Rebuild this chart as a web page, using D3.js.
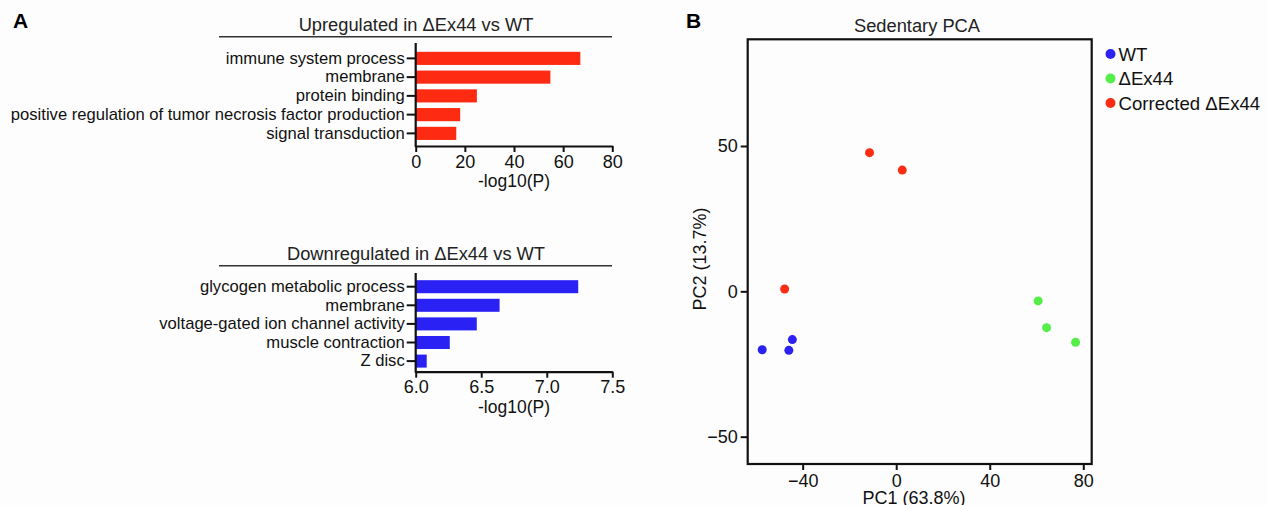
<!DOCTYPE html>
<html>
<head>
<meta charset="utf-8">
<script src="https://cdn.jsdelivr.net/npm/d3@7"></script>
<style>
  html, body { margin: 0; padding: 0; background: #fdfdfd; }
  svg { display: block; font-family: "Liberation Sans", Arial, Helvetica, sans-serif; }
</style>
</head>
<body>
<svg id="chart" width="1267" height="505"></svg>
<script>
// ---- Data ----
const upCategories = ["immune system process", "membrane", "protein binding",
  "positive regulation of tumor necrosis factor production", "signal transduction"];
const upValues = [67, 54.8, 24.9, 18.1, 16.5];
const upTicks = [0, 20, 40, 60, 80];

const downCategories = ["glycogen metabolic process", "membrane", "voltage-gated ion channel activity",
  "muscle contraction", "Z disc"];
const downValues = [7.24, 6.64, 6.466, 6.26, 6.084];
const downTicks = [6.0, 6.5, 7.0, 7.5];

const pcaGroups = ["WT", "ΔEx44", "Corrected ΔEx44"];
const pcaColors = ["#2b22f2", "#55ee48", "#fb2c14"];
const wtPC1 = [-57.3, -45.9, -44.4];
const wtPC2 = [-20.1, -20.3, -16.6];
const exPC1 = [60.7, 64.3, 76.7];
const exPC2 = [-3.3, -12.5, -17.5];
const corrPC1 = [-11.4, 2.6, -47.7];
const corrPC2 = [47.7, 41.7, 0.8];
const pcaXTicks = [-40, 0, 40, 80];
const pcaYTicks = [-50, 0, 50];

const svg = d3.select("#chart");

// panel letters
svg.append("text").attr("x", 13).attr("y", 28).attr("font-size", 21).attr("font-weight", "bold").text("A");
svg.append("text").attr("x", 686).attr("y", 28).attr("font-size", 21).attr("font-weight", "bold").text("B");

// ---- Bar panel helper ----
function barPanel(cfg) {
  const g = svg.append("g");
  const x = d3.scaleLinear().domain(cfg.xDomain).range([415.7, 612.3]);
  const y = d3.scaleBand().domain(cfg.cats).range(cfg.yRange).paddingInner(0.3).paddingOuter(0.15);

  // title + rule
  g.append("text").attr("x", 416).attr("y", cfg.titleY).attr("text-anchor", "middle")
    .attr("font-size", 18.3).attr("fill", "#222").text(cfg.title);
  g.append("line").attr("x1", 219).attr("x2", 612).attr("y1", cfg.ruleY).attr("y2", cfg.ruleY)
    .attr("stroke", "#333").attr("stroke-width", 1.5);

  // bars
  g.selectAll("rect.bar").data(cfg.vals).enter().append("rect")
    .attr("x", x(cfg.xDomain[0]))
    .attr("y", (d, i) => y(cfg.cats[i]))
    .attr("width", d => x(d) - x(cfg.xDomain[0]))
    .attr("height", y.bandwidth())
    .attr("fill", cfg.color);

  // y axis
  const ya = g.append("g").attr("transform", `translate(${x(cfg.xDomain[0])},0)`)
    .call(d3.axisLeft(y).tickSize(9).tickPadding(2).tickSizeOuter(0));
  ya.select(".domain").remove();
  ya.selectAll(".tick line").attr("stroke", "#111").attr("stroke-width", 2);
  ya.selectAll(".tick text").attr("font-size", 16.6).attr("fill", "#111").attr("font-family", null);
  g.append("line").attr("x1", x(cfg.xDomain[0])).attr("x2", x(cfg.xDomain[0]))
    .attr("y1", cfg.axisTop).attr("y2", cfg.axisBottom + 1)
    .attr("stroke", "#111").attr("stroke-width", 2.2);

  // x axis
  const xa = g.append("g").attr("transform", `translate(0,${cfg.axisBottom})`)
    .call(d3.axisBottom(x).tickValues(cfg.ticks).tickFormat(cfg.fmt).tickSize(6).tickPadding(3).tickSizeOuter(0));
  xa.select(".domain").attr("stroke", "#111").attr("stroke-width", 2.2);
  xa.selectAll(".tick line").attr("stroke", "#111").attr("stroke-width", 2);
  xa.selectAll(".tick text").attr("font-size", 18).attr("fill", "#111").attr("font-family", null);

  g.append("text").attr("x", 514).attr("y", cfg.axisBottom + 41).attr("text-anchor", "middle")
    .attr("font-size", 17.5).attr("fill", "#111").text("-log10(P)");
}

barPanel({
  cats: upCategories, vals: upValues, ticks: upTicks, xDomain: [0, 80], fmt: d3.format("d"),
  yRange: [49, 142.75], axisTop: 43, axisBottom: 146, color: "#ff2a12",
  title: "Upregulated in ΔEx44 vs WT", titleY: 31, ruleY: 36.7
});
barPanel({
  cats: downCategories, vals: downValues, ticks: downTicks, xDomain: [6, 7.5], fmt: d3.format(".1f"),
  yRange: [277.4, 370.4], axisTop: 273, axisBottom: 371.7, color: "#2a22f4",
  title: "Downregulated in ΔEx44 vs WT", titleY: 260, ruleY: 265.7
});

// ---- PCA panel ----
const px = d3.scaleLinear().domain([-63.5, 83.6]).range([747.7, 1091.7]);
const py = d3.scaleLinear().domain([-59.4, 86.7]).range([464, 39.3]);
const pg = svg.append("g");

pg.append("text").attr("x", 917).attr("y", 31.5).attr("text-anchor", "middle")
  .attr("font-size", 18.3).attr("fill", "#222").text("Sedentary PCA");

pg.append("rect").attr("x", px.range()[0]).attr("y", py.range()[1])
  .attr("width", px.range()[1] - px.range()[0]).attr("height", py.range()[0] - py.range()[1])
  .attr("fill", "none").attr("stroke", "#111").attr("stroke-width", 2.2);

const pxa = pg.append("g").attr("transform", `translate(0,${py.range()[0]})`)
  .call(d3.axisBottom(px).tickValues(pcaXTicks).tickSize(6).tickPadding(4).tickSizeOuter(0));
pxa.select(".domain").remove();
pxa.selectAll(".tick line").attr("stroke", "#111").attr("stroke-width", 2);
pxa.selectAll(".tick text").attr("font-size", 18).attr("fill", "#111").attr("font-family", null);

const pya = pg.append("g").attr("transform", `translate(${px.range()[0]},0)`)
  .call(d3.axisLeft(py).tickValues(pcaYTicks).tickSize(7).tickPadding(3).tickSizeOuter(0));
pya.select(".domain").remove();
pya.selectAll(".tick line").attr("stroke", "#111").attr("stroke-width", 2);
pya.selectAll(".tick text").attr("font-size", 18).attr("fill", "#111").attr("font-family", null);

pg.append("text").attr("x", 914).attr("y", 504).attr("text-anchor", "middle")
  .attr("font-size", 18).attr("fill", "#111").text("PC1 (63.8%)");
pg.append("text").attr("transform", "translate(706,259) rotate(-90)").attr("text-anchor", "middle")
  .attr("font-size", 18).attr("fill", "#111").text("PC2 (13.7%)");

const series = [
  { xs: wtPC1, ys: wtPC2 },
  { xs: exPC1, ys: exPC2 },
  { xs: corrPC1, ys: corrPC2 }
];
series.forEach((s, k) => {
  pg.selectAll(null).data(s.xs).enter().append("circle")
    .attr("cx", d => px(d))
    .attr("cy", (d, i) => py(s.ys[i]))
    .attr("r", 4.5)
    .attr("fill", pcaColors[k]);
});

// legend
const lg = svg.append("g").attr("transform", "translate(1110.5,54)");
pcaGroups.forEach((name, i) => {
  const row = lg.append("g").attr("transform", `translate(0,${i * 24.5})`);
  row.append("circle").attr("r", 5).attr("fill", pcaColors[i]);
  row.append("text").attr("x", 8).attr("y", 6.5).attr("font-size", 18.6).attr("fill", "#111").text(name);
});
</script>
</body>
</html>
